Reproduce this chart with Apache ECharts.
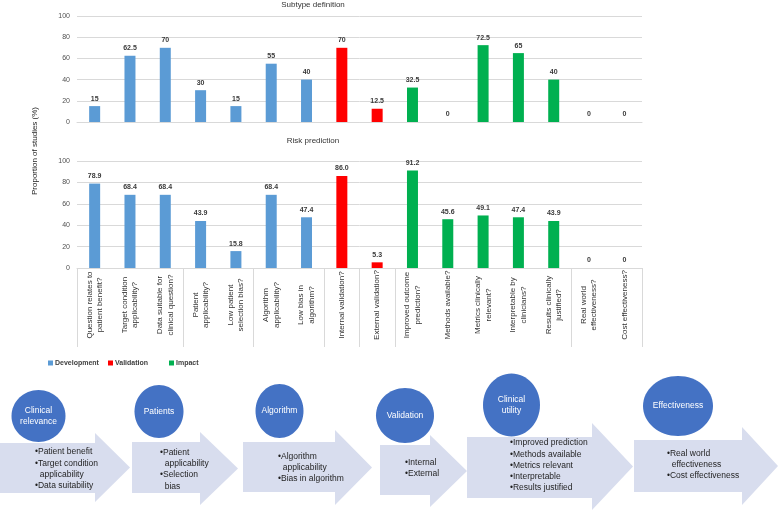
<!DOCTYPE html>
<html><head><meta charset="utf-8">
<script src="https://cdn.jsdelivr.net/npm/echarts@6/dist/echarts.min.js"></script>
<style>html,body{margin:0;padding:0;background:#fff}#c{width:778px;height:511px}</style>
</head><body><div id="c"></div>
<script>
// ---------- data ----------
const categories = [
  'Question relates to\npatient benefit?',
  'Target condition\napplicability?',
  'Data suitable for\nclinical question?',
  'Patient\napplicability?',
  'Low patient\nselection bias?',
  'Algorithm\napplicability?',
  'Low bias in\nalgorithm?',
  'Internal validation?',
  'External validation?',
  'Improved outcome\nprediction?',
  'Methods available?',
  'Metrics clinically\nrelevant?',
  'Interpretable by\nclinicians?',
  'Results clinically\njustified?',
  'Real world\neffectiveness?',
  'Cost effectiveness?'
];
const groupNames = ['Development', 'Validation', 'Impact'];
const groupOfCategory = [0, 0, 0, 0, 0, 0, 0, 1, 1, 2, 2, 2, 2, 2, 2, 2];
const subtypeValues = [15, 62.5, 70, 30, 15, 55, 40, 70, 12.5, 32.5, 0, 72.5, 65, 40, 0, 0];
const riskValues = [78.9, 68.4, 68.4, 43.9, 15.8, 68.4, 47.4, 86.0, 5.3, 91.2, 45.6, 49.1, 47.4, 43.9, 0, 0];
const separatorIndices = [0, 3, 5, 7, 8, 9, 14];
const chartTitles = ['Subtype definition', 'Risk prediction'];
const yAxisTitle = 'Proportion of studies (%)';

const stageNames = ['Clinical\nrelevance', 'Patients', 'Algorithm', 'Validation', 'Clinical\nutility', 'Effectiveness'];
const stageBullets = [
  ['Patient benefit', 'Target condition\napplicability', 'Data suitability'],
  ['Patient\napplicability', 'Selection\nbias'],
  ['Algorithm\napplicability', 'Bias in algorithm'],
  ['Internal', 'External'],
  ['Improved prediction', 'Methods available', 'Metrics relevant', 'Interpretable', 'Results justified'],
  ['Real world\neffectiveness', 'Cost effectiveness']
];

// ---------- layout / style ----------
const FONT = '"Liberation Sans", Arial, sans-serif';
const groupColors = ['#5B9BD5', '#FF0000', '#00B050'];
// arrow: [x0, headStartX, tipX, bodyTop, bodyBottom, headTop, headBottom]
const stageLayout = [
  { arrow: [0, 95, 130, 443, 493, 433, 502], circle: [38.5, 416, 27, 26], text: [35, 446.5] },
  { arrow: [132, 200, 238, 442, 493, 432, 505], circle: [159, 411.5, 24.5, 26.5], text: [160, 447] },
  { arrow: [243, 335, 372, 442, 492, 430, 505], circle: [279.5, 411, 24, 27], text: [278, 451] },
  { arrow: [380, 430, 467, 445, 495, 435, 507], circle: [405, 415.5, 29, 27.5], text: [405, 457] },
  { arrow: [467, 592, 633, 437, 498, 423, 510], circle: [511.5, 405, 28.5, 31.5], text: [510, 437.5] },
  { arrow: [634, 742, 778, 440, 492, 427, 505], circle: [678, 406, 35, 30], text: [667, 448] }
];

function groupData(values, g) {
  return values.map((v, i) => groupOfCategory[i] === g ? v : '-');
}
const fmtSubtype = p => String(p.value);
const fmtRisk = p => p.value === 0 ? '0' : p.value.toFixed(1);

const series = [];
[[subtypeValues, 0, fmtSubtype], [riskValues, 1, fmtRisk]].forEach(([vals, ax, fmt]) => {
  groupNames.forEach((name, g) => {
    series.push({
      type: 'bar', name, xAxisIndex: ax, yAxisIndex: ax, stack: 'chart' + ax,
      barWidth: 11, data: groupData(vals, g),
      itemStyle: { color: groupColors[g] },
      label: { show: true, position: 'top', distance: 4, formatter: fmt,
        fontSize: 7, fontWeight: 'bold', color: '#3a3a3a', fontFamily: FONT }
    });
  });
});

const graphics = [];
stageLayout.forEach((s, k) => {
  const [x0, xh, tip, bt, bb, ht, hb] = s.arrow;
  const mid = (ht + hb) / 2;
  graphics.push({ type: 'polygon', z: 1, shape: { points: [[x0, bt], [xh, bt], [xh, ht], [tip, mid], [xh, hb], [xh, bb], [x0, bb]] },
    style: { fill: '#D8DDEE' } });
});
stageLayout.forEach((s, k) => {
  const [cx, cy, rx, ry] = s.circle;
  graphics.push({ type: 'ellipse', z: 2, shape: { cx, cy, rx, ry }, style: { fill: '#4472C4' } });
  graphics.push({ type: 'text', z: 3, x: cx, y: cy,
    style: { text: stageNames[k], fill: '#ffffff', font: '8.5px ' + FONT, align: 'center', verticalAlign: 'middle', lineHeight: 10.5 } });
  const lines = [];
  stageBullets[k].forEach(b => b.split('\n').forEach((l, i) => lines.push((i === 0 ? '\u2022' : '  ') + l)));
  graphics.push({ type: 'text', z: 3, x: s.text[0], y: s.text[1],
    style: { text: lines.join('\n'), fill: '#1f1f1f', font: '8.5px ' + FONT, align: 'left', verticalAlign: 'top', lineHeight: 11.2 } });
});
graphics.push({ type: 'text', x: 313, y: 5, style: { text: chartTitles[0], fill: '#333333', font: '8px ' + FONT, align: 'center', verticalAlign: 'middle' } });
graphics.push({ type: 'text', x: 313, y: 141, style: { text: chartTitles[1], fill: '#333333', font: '8px ' + FONT, align: 'center', verticalAlign: 'middle' } });
graphics.push({ type: 'text', x: 35, y: 151, rotation: Math.PI / 2,
  style: { text: yAxisTitle, fill: '#1f1f1f', font: '8px ' + FONT, align: 'center', verticalAlign: 'middle' } });

const yAxisBase = {
  min: 0, max: 100, interval: 20,
  axisLabel: { fontSize: 7, color: '#505050', margin: 7, fontFamily: FONT },
  splitLine: { lineStyle: { color: '#d9d9d9' } },
  axisLine: { show: false }, axisTick: { show: false }
};

const legendBase = (name, left) => ({
  data: [name], left, top: 359.5, padding: 0, icon: 'rect', itemWidth: 5, itemHeight: 5,
  textStyle: { fontSize: 7, fontWeight: 'bold', color: '#404040', fontFamily: FONT, padding: [0, 0, 0, -3] }
});

const option = {
  animation: false,
  backgroundColor: '#ffffff',
  grid: [
    { left: 77, top: 16, width: 565, height: 106, outerBoundsMode: 'none' },
    { left: 77, top: 161, width: 565, height: 107, outerBoundsMode: 'none' }
  ],
  xAxis: [
    { type: 'category', gridIndex: 0, data: categories, axisLabel: { show: false }, axisTick: { show: false },
      axisLine: { lineStyle: { color: '#d9d9d9' } } },
    { type: 'category', gridIndex: 1, data: categories,
      axisLine: { lineStyle: { color: '#d9d9d9' } },
      axisTick: { show: true, length: 79, interval: i => separatorIndices.includes(i), lineStyle: { color: '#d9d9d9' } },
      axisLabel: { interval: 0, rotate: 90, margin: 5, color: '#333333', fontFamily: FONT, fontSize: 8,
        formatter: v => v.split('\n').map(l => '{c|' + l + '}').join('\n'),
        rich: { c: { width: 64, align: 'center', fontSize: 8, lineHeight: 10.5, color: '#333333', fontFamily: FONT } } }
    }
  ],
  yAxis: [Object.assign({ gridIndex: 0 }, yAxisBase), Object.assign({ gridIndex: 1 }, yAxisBase)],
  legend: [legendBase(groupNames[0], 48), legendBase(groupNames[1], 108), legendBase(groupNames[2], 169)],
  series,
  graphic: graphics
};

const chart = echarts.init(document.getElementById('c'), null, { renderer: 'canvas' });
chart.setOption(option);
</script>
</body></html>
